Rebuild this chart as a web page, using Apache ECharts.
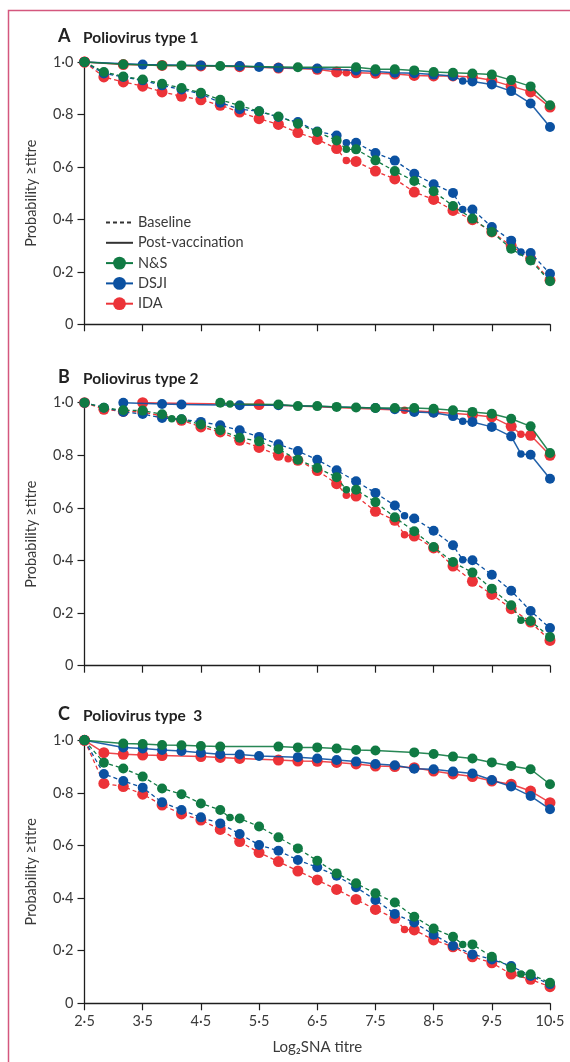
<!DOCTYPE html>
<html><head><meta charset="utf-8">
<script src="https://cdn.jsdelivr.net/npm/echarts@6/dist/echarts.min.js"></script>
<style>html,body{margin:0;padding:0;background:#fff}#c{width:570px;height:1062px}</style>
</head><body><div id="c"></div>
<script>
// ---------- tick labels / categories ----------
const xTicks = [2.5, 3.5, 4.5, 5.5, 6.5, 7.5, 8.5, 9.5, 10.5];
const groups = ['N&S', 'DSJI', 'IDA'];
const panelLetters = ['A', 'B', 'C'];
const panelNames = ['Poliovirus type 1', 'Poliovirus type 2', 'Poliovirus type  3'];
const xName = 'Log₂SNA titre';
const yName = 'Probability ≥titre';

// ---------- Panel A : poliovirus type 1 ----------
const A_NS_base = [[2.5,1],[2.833,.962],[3.167,.945],[3.5,.933],[3.833,.917],[4.167,.901],[4.5,.883],[4.833,.856],[5.167,.834],[5.5,.812],[5.833,.792],[6.167,.765],[6.5,.733],[6.833,.701],[7,.667],[7.167,.667],[7.5,.625],[7.833,.584],[8.167,.546],[8.5,.507],[8.833,.451],[9.167,.403],[9.5,.352],[9.833,.288],[10.167,.243],[10.5,.164]];
const A_DSJI_base = [[2.5,1],[2.833,.956],[3.167,.943],[3.5,.930],[3.833,.911],[4.167,.895],[4.5,.879],[4.833,.845],[5.167,.820],[5.5,.812],[5.833,.790],[6.167,.771],[6.5,.735],[6.833,.720],[7,.692],[7.167,.692],[7.5,.653],[7.833,.624],[8.167,.574],[8.5,.534],[8.833,.501],[9,.438],[9.167,.438],[9.5,.371],[9.833,.319],[10,.276],[10.167,.272],[10.5,.193]];
const A_IDA_base = [[2.5,1],[2.833,.943],[3.167,.924],[3.5,.908],[3.833,.886],[4.167,.869],[4.5,.856],[4.833,.835],[5.167,.809],[5.5,.784],[5.833,.762],[6.167,.731],[6.5,.705],[6.833,.670],[7,.624],[7.167,.621],[7.5,.584],[7.833,.554],[8.167,.504],[8.5,.476],[8.833,.434],[9.167,.399],[9.5,.352],[9.833,.299],[10.167,.250],[10.5,.168]];
const A_NS_post = [[2.5,1],[3.167,.991],[3.833,.987],[4.167,.987],[4.833,.985],[6.167,.980],[7.167,.980],[7.5,.972],[7.833,.972],[8.167,.968],[8.5,.962],[8.833,.959],[9.167,.956],[9.5,.952],[9.833,.931],[10.167,.907],[10.5,.835]];
const A_DSJI_post = [[2.5,1],[3.5,.990],[4.5,.987],[5.167,.985],[5.5,.981],[5.833,.978],[6.5,.975],[7.167,.968],[7.5,.964],[7.833,.959],[8.167,.957],[8.5,.952],[8.833,.947],[9,.928],[9.167,.926],[9.5,.914],[9.833,.889],[10.167,.842],[10.5,.752]];
const A_IDA_post = [[2.5,1],[3.167,.990],[3.833,.987],[4.5,.985],[5.167,.982],[5.833,.977],[6.5,.972],[6.833,.962],[7,.959],[7.167,.959],[7.5,.957],[7.833,.954],[8.167,.949],[8.5,.947],[8.833,.947],[9.167,.943],[9.5,.930],[9.833,.908],[10.167,.886],[10.5,.828]];

// ---------- Panel B : poliovirus type 2 ----------
const B_NS_base = [[2.5,1],[2.833,.981],[3.167,.971],[3.5,.970],[3.833,.956],[4,.939],[4.167,.937],[4.5,.917],[4.833,.895],[5.167,.867],[5.5,.853],[5.833,.823],[6.167,.783],[6.5,.752],[6.833,.717],[7,.669],[7.167,.669],[7.5,.622],[7.833,.564],[8.167,.511],[8.5,.451],[8.833,.394],[9.167,.354],[9.5,.293],[9.833,.230],[10,.173],[10.167,.170],[10.5,.109]];
const B_DSJI_base = [[2.5,1],[2.833,.981],[3.167,.965],[3.5,.957],[3.833,.942],[4.167,.937],[4.5,.927],[4.833,.914],[5.167,.895],[5.5,.870],[5.833,.842],[6.167,.816],[6.5,.783],[6.833,.743],[7.167,.701],[7.5,.657],[7.833,.609],[8,.570],[8.167,.560],[8.5,.513],[8.833,.458],[9,.403],[9.167,.401],[9.5,.346],[9.833,.285],[10.167,.208],[10.5,.143]];
const B_IDA_base = [[2.5,1],[2.833,.975],[3.167,.967],[3.5,.965],[3.833,.949],[4.167,.933],[4.5,.908],[4.833,.889],[5.167,.857],[5.5,.830],[5.833,.800],[6,.787],[6.167,.781],[6.5,.742],[6.833,.692],[7,.648],[7.167,.645],[7.5,.587],[7.833,.553],[8,.498],[8.167,.493],[8.5,.448],[8.833,.379],[9.167,.321],[9.5,.271],[9.833,.217],[10.167,.166],[10.5,.096]];
const B_NS_post = [[4.833,1],[5,.995],[5.833,.993],[6.167,.987],[6.5,.987],[6.833,.984],[7.167,.982],[7.5,.980],[7.833,.980],[8.167,.980],[8.5,.977],[8.833,.971],[9.167,.965],[9.5,.958],[9.833,.939],[10.167,.910],[10.5,.809]];
const B_DSJI_post = [[3.167,1],[3.833,.995],[4.167,.993],[5.167,.990],[5.833,.990],[7.5,.980],[7.833,.975],[8.167,.965],[8.5,.962],[8.833,.949],[9,.929],[9.167,.927],[9.5,.908],[9.833,.872],[10,.805],[10.167,.802],[10.5,.711]];
const B_IDA_post = [[3.5,1],[5.5,.993],[8,.971],[8.5,.965],[9.167,.954],[9.5,.946],[9.833,.910],[10,.880],[10.167,.876],[10.5,.800]];

// ---------- Panel C : poliovirus type 3 ----------
const C_NS_base = [[2.5,1],[2.833,.915],[3.167,.893],[3.5,.862],[3.833,.817],[4.167,.795],[4.5,.760],[4.833,.735],[5,.706],[5.167,.703],[5.5,.672],[5.833,.631],[6.167,.589],[6.5,.542],[6.833,.494],[7.167,.456],[7.5,.418],[7.833,.383],[8.167,.329],[8.5,.284],[8.833,.253],[9,.224],[9.167,.224],[9.5,.177],[9.833,.135],[10,.111],[10.167,.110],[10.5,.078]];
const C_DSJI_base = [[2.5,1],[2.833,.872],[3.167,.845],[3.5,.820],[3.833,.764],[4.167,.735],[4.5,.707],[4.833,.684],[5.167,.644],[5.5,.602],[5.833,.580],[6.167,.545],[6.5,.517],[6.833,.485],[7.167,.441],[7.5,.393],[7.833,.340],[8.167,.307],[8.5,.261],[8.833,.219],[9.167,.186],[9.5,.167],[9.833,.142],[10.167,.104],[10.5,.073]];
const C_IDA_base = [[2.5,1],[2.833,.836],[3.167,.824],[3.5,.795],[3.833,.754],[4.167,.720],[4.5,.697],[4.833,.661],[5.167,.615],[5.5,.573],[5.833,.539],[6.167,.503],[6.5,.469],[6.833,.433],[7.167,.395],[7.5,.357],[7.833,.323],[8,.281],[8.167,.279],[8.5,.241],[8.833,.215],[9.167,.177],[9.5,.154],[9.833,.111],[10.167,.091],[10.5,.063]];
const C_NS_post = [[2.5,1],[3.167,.988],[3.5,.986],[3.833,.982],[4.167,.981],[4.5,.978],[4.833,.976],[5.833,.976],[6.167,.973],[6.5,.973],[6.833,.969],[7.167,.963],[7.5,.961],[8.167,.954],[8.5,.948],[8.833,.938],[9.167,.931],[9.5,.916],[9.833,.902],[10.167,.890],[10.5,.833]];
const C_DSJI_post = [[2.5,1],[3.167,.973],[3.5,.969],[3.833,.963],[4.167,.959],[4.5,.953],[4.833,.947],[5.167,.946],[5.5,.940],[6.167,.936],[6.5,.931],[6.833,.925],[7.167,.919],[7.5,.910],[7.833,.905],[8.167,.892],[8.5,.890],[8.833,.881],[9.167,.874],[9.5,.849],[9.833,.824],[10.167,.788],[10.5,.738]];
const C_IDA_post = [[2.5,1],[2.833,.953],[3.167,.947],[3.5,.944],[3.833,.942],[4.5,.938],[4.833,.935],[5.167,.931],[5.833,.925],[6.167,.921],[6.5,.920],[6.833,.916],[7.167,.910],[7.5,.902],[7.833,.900],[8.167,.896],[8.5,.883],[8.833,.872],[9.167,.862],[9.5,.845],[9.833,.833],[10.167,.807],[10.5,.763]];

const panels = [
  {base: {'N&S': A_NS_base, 'DSJI': A_DSJI_base, 'IDA': A_IDA_base}, post: {'N&S': A_NS_post, 'DSJI': A_DSJI_post, 'IDA': A_IDA_post}},
  {base: {'N&S': B_NS_base, 'DSJI': B_DSJI_base, 'IDA': B_IDA_base}, post: {'N&S': B_NS_post, 'DSJI': B_DSJI_post, 'IDA': B_IDA_post}},
  {base: {'N&S': C_NS_base, 'DSJI': C_DSJI_base, 'IDA': C_IDA_base}, post: {'N&S': C_NS_post, 'DSJI': C_DSJI_post, 'IDA': C_IDA_post}}
];

// ---------- styles ----------
const FONT = 'Lato';
const TXT = '#3a3a3a';
const AX = '#1e1e1e';
const colors = {'N&S': '#107a43', 'DSJI': '#0b51a1', 'IDA': '#ec3338'};
const dotSize = {'N&S': 10, 'DSJI': 10, 'IDA': 11};
const drawOrder = ['IDA', 'DSJI', 'N&S'];
const gridTops = [62, 402.7, 740.3];
const gridHeights = [262.3, 263, 263];
const fmt = v => v === 0 ? '0' : v.toFixed(1).replace('.', '·');

const grids = [], xAxes = [], yAxes = [], series = [], titles = [];
gridTops.forEach((t, i) => {
  grids.push({left: 84.5, width: 465.5, top: t, height: gridHeights[i]});
  xAxes.push({
    type: 'value', gridIndex: i, min: 2.5, max: 10.5,
    axisLine: {show: true, onZero: false, lineStyle: {color: AX, width: 1.3}},
    axisTick: {show: true, customValues: xTicks, length: 7, lineStyle: {color: AX, width: 1.2}},
    axisLabel: {show: i === 2, customValues: xTicks, formatter: fmt, fontFamily: FONT, fontSize: 14.5, color: TXT, margin: 11},
    splitLine: {show: false},
    name: i === 2 ? xName : '', nameLocation: 'middle', nameGap: 36,
    nameTextStyle: {fontFamily: FONT, fontSize: 15, color: TXT}
  });
  yAxes.push({
    type: 'value', gridIndex: i, min: 0, max: 1, interval: 0.2,
    axisLine: {show: true, lineStyle: {color: AX, width: 1.3}},
    axisTick: {show: true, length: 7, lineStyle: {color: AX, width: 1.2}},
    axisLabel: {formatter: fmt, fontFamily: FONT, fontSize: 14.5, color: TXT, margin: 11},
    splitLine: {show: false},
    name: yName, nameLocation: 'middle', nameRotate: 90, nameGap: 46,
    nameTextStyle: {fontFamily: FONT, fontSize: 14.5, color: TXT}
  });
  titles.push({text: panelLetters[i], left: 58, top: t - 35, padding: 0, textStyle: {fontFamily: FONT, fontSize: 18, fontWeight: 'bold', color: '#222'}});
  titles.push({text: panelNames[i], left: 83, top: t - 32, padding: 0, textStyle: {fontFamily: FONT, fontSize: 15.5, fontWeight: 'bold', color: '#222'}});

  drawOrder.forEach((g, gi) => {
    const sz = v => Number.isInteger(v[0]) ? 7.5 : dotSize[g];
    series.push({
      type: 'line', xAxisIndex: i, yAxisIndex: i, data: panels[i].post[g],
      symbol: 'circle', symbolSize: sz, clip: false, z: 3 + gi,
      itemStyle: {color: colors[g]}, lineStyle: {color: colors[g], width: 1.5, opacity: 0.9},
      emphasis: {disabled: true}, animation: false
    });
    series.push({
      type: 'line', xAxisIndex: i, yAxisIndex: i, data: panels[i].base[g],
      symbol: 'circle', symbolSize: sz, clip: false, z: 3 + gi,
      itemStyle: {color: colors[g]}, lineStyle: {color: colors[g], width: 1.3, type: [4, 3]},
      emphasis: {disabled: true}, animation: false
    });
  });
});

// legend-only series
series.push({name: 'Baseline', type: 'line', xAxisIndex: 0, yAxisIndex: 0, data: [], symbol: 'none', itemStyle: {color: '#333'}, lineStyle: {color: '#333', width: 1.3, type: [4, 3]}});
series.push({name: 'Post-vaccination', type: 'line', xAxisIndex: 0, yAxisIndex: 0, data: [], symbol: 'none', itemStyle: {color: '#333'}, lineStyle: {color: '#333', width: 1.3}});
groups.forEach(g => series.push({name: g, type: 'line', xAxisIndex: 0, yAxisIndex: 0, data: [], symbol: 'circle', itemStyle: {color: colors[g]}, lineStyle: {color: colors[g], width: 1.5}}));

const chart = echarts.init(document.getElementById('c'), null, {renderer: 'canvas'});
chart.setOption({
  animation: false,
  backgroundColor: '#fff',
  title: titles,
  grid: grids, xAxis: xAxes, yAxis: yAxes, series: series,
  legend: {
    orient: 'vertical', left: 100, top: 210, itemWidth: 27, itemHeight: 16, itemGap: 5.3,
    selectedMode: false,
    data: [
      {name: 'Baseline', itemStyle: {opacity: 0}},
      {name: 'Post-vaccination', itemStyle: {opacity: 0}}
    ].concat(groups),
    textStyle: {fontFamily: FONT, fontSize: 14.5, color: TXT}
  },
  graphic: [{type: 'polyline', silent: true, shape: {points: [[8.5, 1062], [8.5, 10.5], [570, 10.5]]}, style: {stroke: '#d4577e', lineWidth: 1.5, fill: null}}]
});
</script></body></html>
